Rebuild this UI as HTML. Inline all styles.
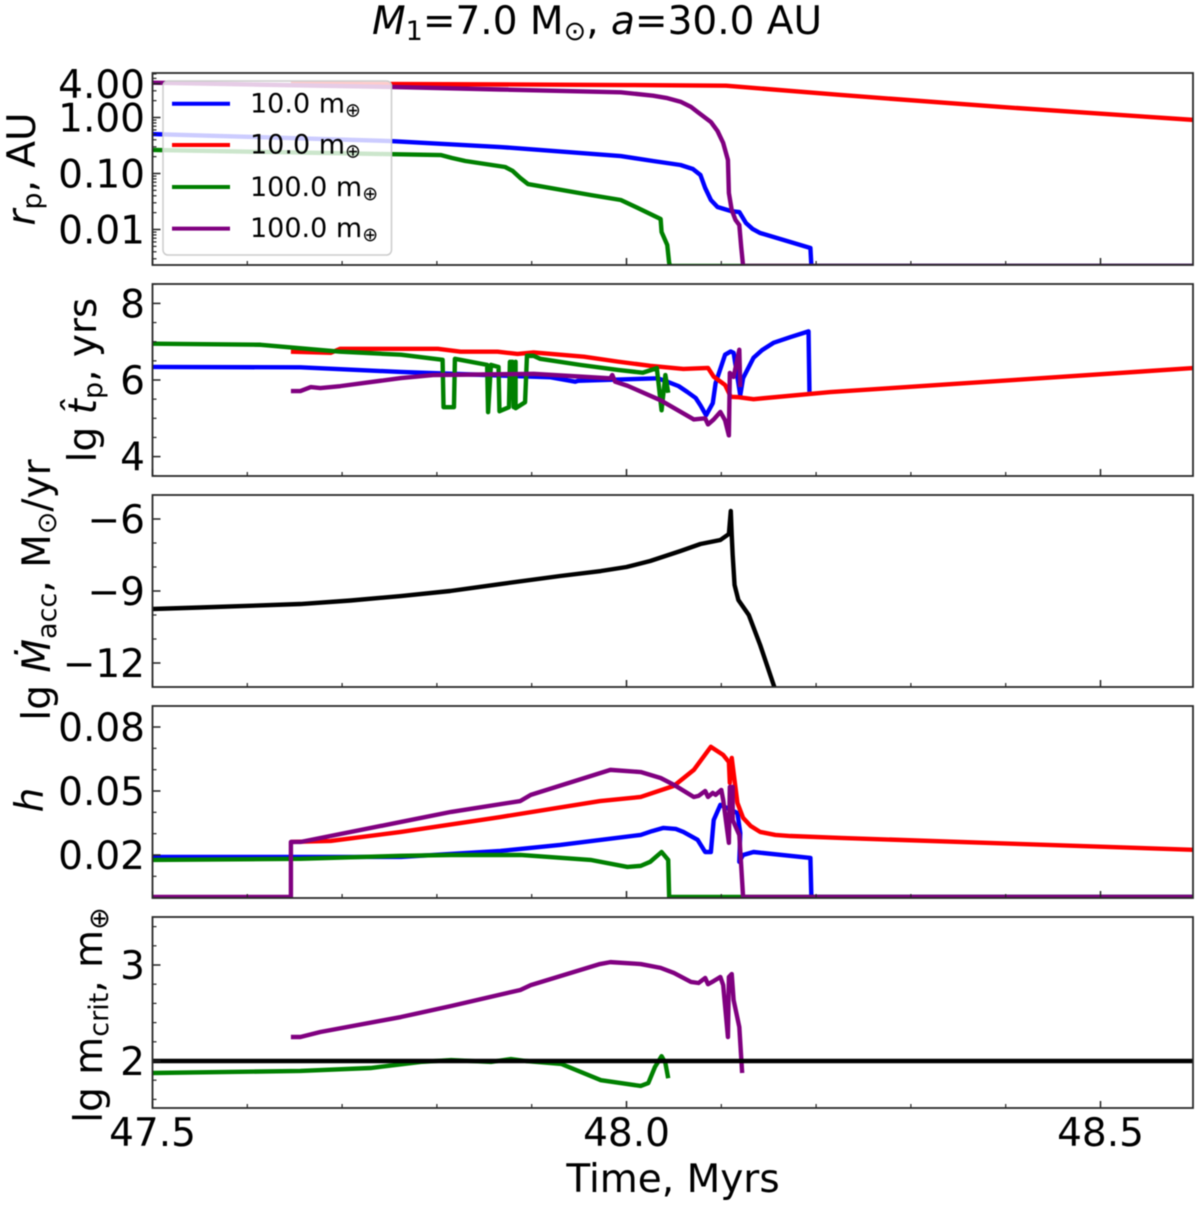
<!DOCTYPE html>
<html lang="en">
<head>
<meta charset="utf-8">
<title>Planet evolution chart</title>
<style>
html,body{margin:0;padding:0;background:#fff;}
svg{display:block;filter:blur(0.4px);}
text{font-family:"DejaVu Sans","Liberation Sans",sans-serif;fill:#000;}
</style>
</head>
<body>
<svg id="chart" xmlns="http://www.w3.org/2000/svg" width="1200" height="1205" viewBox="0 0 1200 1205">
  <rect x="0" y="0" width="1200" height="1205" fill="#fff"/>
  <defs>
    <clipPath id="clip-rp"><rect x="152.5" y="73" width="1040.5" height="192"/></clipPath>
    <clipPath id="clip-tp"><rect x="152.5" y="284" width="1040.5" height="192"/></clipPath>
    <clipPath id="clip-acc"><rect x="152.5" y="495" width="1040.5" height="192"/></clipPath>
    <clipPath id="clip-h"><rect x="152.5" y="706" width="1040.5" height="192"/></clipPath>
    <clipPath id="clip-crit"><rect x="152.5" y="917" width="1040.5" height="191"/></clipPath>
  </defs>
  <g id="plot-layer"></g>

  <text x="597" y="34" text-anchor="middle" font-size="39"><tspan font-style="italic">M</tspan><tspan font-size="27" dy="6">1</tspan><tspan dy="-6">=7.0 M</tspan><tspan font-size="27" dy="6">⊙</tspan><tspan dy="-6">, </tspan><tspan font-style="italic">a</tspan>=30.0 AU</text>

  <text transform="translate(35 169) rotate(-90)" text-anchor="middle" font-size="39"><tspan font-style="italic">r</tspan><tspan font-size="27" dy="6">p</tspan><tspan dy="-6">, AU</tspan></text>
  <text transform="translate(96 380) rotate(-90)" text-anchor="middle" font-size="39">lg <tspan font-style="italic">t̂</tspan><tspan font-size="27" dy="6">p</tspan><tspan dy="-6">, yrs</tspan></text>
  <text transform="translate(50 590) rotate(-90)" text-anchor="middle" font-size="39">lg <tspan font-style="italic">Ṁ</tspan><tspan font-size="27" dy="6">acc</tspan><tspan dy="-6">, M</tspan><tspan font-size="27" dy="6">⊙</tspan><tspan dy="-6">/yr</tspan></text>
  <text transform="translate(43 800) rotate(-90)" text-anchor="middle" font-size="39" font-style="italic">h</text>
  <text transform="translate(102 1015) rotate(-90)" text-anchor="middle" font-size="39">lg m<tspan font-size="27" dy="6">crit</tspan><tspan dy="-6">, m</tspan><tspan font-size="27" dy="6">⊕</tspan></text>
  <text x="673" y="1192" text-anchor="middle" font-size="39">Time, Myrs</text>

  <g>
    <rect x="163" y="81" width="228.5" height="174" rx="5" ry="5" fill="#fff" fill-opacity="0.8" stroke="#ccc" stroke-width="1.5"/>
    <g>
      <line x1="172" x2="230" y1="103.7" y2="103.7" stroke="#0000ff" stroke-width="4"/>
      <text x="250" y="112.5" font-size="27">10.0 m<tspan font-size="19" dy="4">⊕</tspan></text>
    </g>
    <g>
      <line x1="172" x2="230" y1="145" y2="145" stroke="#ff0000" stroke-width="4"/>
      <text x="250" y="153.5" font-size="27">10.0 m<tspan font-size="19" dy="4">⊕</tspan></text>
    </g>
    <g>
      <line x1="172" x2="230" y1="187" y2="187" stroke="#008000" stroke-width="4"/>
      <text x="250" y="196" font-size="27">100.0 m<tspan font-size="19" dy="4">⊕</tspan></text>
    </g>
    <g>
      <line x1="172" x2="230" y1="228.6" y2="228.6" stroke="#800080" stroke-width="4"/>
      <text x="250" y="237" font-size="27">100.0 m<tspan font-size="19" dy="4">⊕</tspan></text>
    </g>
  </g>
</svg>

<script>
// ---- tick values and labels ----
const timeMajorTicks = [47.5, 48.0, 48.5];
const timeTickLabels = ["47.5", "48.0", "48.5"];
const timeMinorTicks = [47.6, 47.7, 47.8, 47.9, 48.1, 48.2, 48.3, 48.4];

const rpMajorTicks = [-2, -1, 0, 0.602];
const rpTickLabels = ["0.01", "0.10", "1.00", "4.00"];
const rpMinorTicks = [-2.523, -2.398, -2.301, -2.222, -2.155, -2.097, -2.046, -1.699, -1.523, -1.398, -1.301, -1.222, -1.155, -1.097, -1.046, -0.699, -0.523, -0.398, -0.301, -0.222, -0.155, -0.097, -0.046, 0.301, 0.477, 0.699, 0.778];

const tpMajorTicks = [4, 6, 8];
const tpTickLabels = ["4", "6", "8"];
const tpMinorTicks = [3.5, 4.5, 5, 5.5, 6.5, 7, 7.5, 8.5];

const accMajorTicks = [-12, -9, -6];
const accTickLabels = ["−12", "−9", "−6"];
const accMinorTicks = [-13, -11, -10, -8, -7];

const hMajorTicks = [0.02, 0.05, 0.08];
const hTickLabels = ["0.02", "0.05", "0.08"];
const hMinorTicks = [0.01, 0.03, 0.04, 0.06, 0.07, 0.09];

const critMajorTicks = [2, 3];
const critTickLabels = ["2", "3"];
const critMinorTicks = [1.6, 1.8, 2.2, 2.4, 2.6, 2.8, 3.2, 3.4];

// ---- panel 1: lg of planet orbital radius (AU) ----
const rpBlueTime = [47.5, 47.751, 47.867, 47.994, 48.028, 48.057, 48.07, 48.078, 48.083, 48.089, 48.096, 48.110, 48.119, 48.126, 48.133, 48.141, 48.194, 48.195, 48.6];
const rpBlueLg = [-0.295, -0.42, -0.527, -0.688, -0.777, -0.848, -0.92, -1.027, -1.259, -1.473, -1.598, -1.67, -1.688, -1.884, -1.99, -2.063, -2.33, -2.65, -2.65];
const rpRedTime = [47.646, 48.0, 48.105, 48.226, 48.395, 48.6];
const rpRedLg = [0.607, 0.58, 0.568, 0.402, 0.188, -0.045];
const rpGreenTime = [47.5, 47.804, 47.816, 47.83, 47.872, 47.88, 47.888, 47.896, 47.962, 47.994, 48.012, 48.036, 48.037, 48.043, 48.045, 48.046, 48.6];
const rpGreenLg = [-0.58, -0.67, -0.723, -0.777, -0.884, -0.955, -1.08, -1.188, -1.384, -1.473, -1.616, -1.813, -2.045, -2.277, -2.598, -2.65, -2.65];
const rpPurpleTime = [47.5, 47.751, 47.867, 47.994, 48.028, 48.042, 48.057, 48.068, 48.075, 48.082, 48.089, 48.096, 48.102, 48.107, 48.108, 48.111, 48.115, 48.119, 48.121, 48.123, 48.6];
const rpPurpleLg = [0.621, 0.545, 0.5, 0.45, 0.389, 0.35, 0.282, 0.19, 0.098, 0.009, -0.08, -0.241, -0.455, -0.759, -1.348, -1.652, -1.83, -1.92, -2.313, -2.65, -2.65];

// ---- panel 2: lg of migration timescale (yrs) ----
const tpBlueTime = [47.5, 47.656, 47.762, 47.92, 47.946, 47.949, 48.033, 48.043, 48.055, 48.064, 48.073, 48.078, 48.084, 48.091, 48.094, 48.104, 48.11, 48.113, 48.12, 48.123, 48.129, 48.134, 48.143, 48.155, 48.173, 48.192, 48.193];
const tpBlueValue = [6.34, 6.33, 6.21, 6.07, 5.955, 5.98, 6.045, 5.955, 5.84, 5.69, 5.53, 5.34, 5.08, 5.395, 5.92, 6.66, 6.745, 6.71, 5.605, 6.05, 6.34, 6.58, 6.78, 6.97, 7.12, 7.27, 5.69];
const tpRedTime = [47.646, 47.688, 47.698, 47.762, 47.801, 47.825, 47.864, 47.885, 47.902, 47.955, 47.991, 48.025, 48.06, 48.086, 48.092, 48.104, 48.11, 48.117, 48.134, 48.215, 48.6];
const tpRedValue = [6.74, 6.71, 6.815, 6.815, 6.815, 6.74, 6.74, 6.68, 6.72, 6.61, 6.48, 6.37, 6.29, 6.315, 6.087, 5.87, 5.56, 5.553, 5.5, 5.684, 6.315];
const tpGreenTime = [47.5, 47.614, 47.698, 47.762, 47.806, 47.807, 47.818, 47.819, 47.853, 47.854, 47.857, 47.865, 47.866, 47.876, 47.877, 47.880, 47.881, 47.883, 47.883, 47.893, 47.895, 47.902, 47.909, 47.951, 47.991, 48.017, 48.032, 48.037, 48.041, 48.044];
const tpGreenValue = [6.947, 6.92, 6.74, 6.66, 6.526, 5.29, 5.29, 6.553, 6.395, 5.16, 6.395, 6.34, 5.184, 5.29, 6.474, 6.474, 5.29, 6.474, 5.263, 5.42, 6.63, 6.63, 6.553, 6.395, 6.263, 6.19, 6.31, 5.21, 6.13, 5.666];
const tpPurpleTime = [47.646, 47.656, 47.667, 47.677, 47.698, 47.762, 47.796, 47.902, 47.983, 47.985, 47.988, 48.001, 48.036, 48.071, 48.083, 48.086, 48.092, 48.099, 48.104, 48.108, 48.109, 48.113, 48.119, 48.12];
const tpPurpleValue = [5.71, 5.71, 5.816, 5.79, 5.84, 6.05, 6.13, 6.16, 6.045, 6.13, 5.955, 5.85, 5.47, 4.97, 5, 4.84, 4.97, 5.166, 4.947, 4.553, 6.184, 6.08, 6.79, 5.816];

// ---- panel 3: lg of accretion rate (Msun/yr) ----
const accTime = [47.5, 47.55, 47.656, 47.709, 47.762, 47.814, 47.867, 47.93, 47.973, 48.0, 48.025, 48.057, 48.078, 48.099, 48.108, 48.11, 48.111, 48.112, 48.114, 48.118, 48.129, 48.141, 48.157];
const accValue = [-9.75, -9.688, -9.542, -9.396, -9.209, -9.0, -8.709, -8.375, -8.167, -8.0, -7.75, -7.334, -7.042, -6.875, -6.625, -5.667, -6.667, -7.5, -8.75, -9.375, -10.0, -11.25, -13.125];

// ---- panel 4: disc aspect ratio h ----
const hBlueTime = [47.5, 47.762, 47.867, 47.93, 48.015, 48.027, 48.039, 48.052, 48.06, 48.075, 48.083, 48.089, 48.092, 48.099, 48.117, 48.12, 48.119, 48.123, 48.134, 48.194, 48.195, 48.6];
const hBlueValue = [0.0191, 0.0191, 0.0219, 0.0247, 0.0294, 0.0312, 0.0327, 0.0322, 0.0308, 0.0271, 0.0214, 0.0214, 0.0364, 0.0435, 0.0397, 0.0303, 0.0168, 0.02, 0.0214, 0.0186, 0.0003, 0.0003];
const hRedTime = [47.646, 47.688, 47.762, 47.867, 47.972, 48.015, 48.05, 48.071, 48.089, 48.102, 48.108, 48.109, 48.111, 48.117, 48.123, 48.131, 48.141, 48.157, 48.173, 48.226, 48.6];
const hRedValue = [0.0261, 0.0266, 0.0308, 0.0378, 0.0453, 0.0472, 0.0524, 0.0599, 0.0707, 0.0669, 0.0636, 0.0538, 0.0655, 0.0444, 0.0374, 0.0336, 0.0308, 0.0294, 0.0289, 0.028, 0.0224];
const hGreenTime = [47.5, 47.656, 47.762, 47.815, 47.888, 47.962, 48.001, 48.015, 48.025, 48.037, 48.044, 48.045, 48.6];
const hGreenValue = [0.0177, 0.0182, 0.0196, 0.02, 0.02, 0.0177, 0.0144, 0.0149, 0.0168, 0.0214, 0.0177, 0.0003, 0.0003];
const hPurpleTime = [47.5, 47.646, 47.646, 47.656, 47.762, 47.815, 47.888, 47.899, 47.983, 48.015, 48.036, 48.05, 48.071, 48.076, 48.083, 48.086, 48.091, 48.094, 48.1, 48.102, 48.108, 48.109, 48.112, 48.112, 48.119, 48.123, 48.6];
const hPurpleValue = [0.0003, 0.0003, 0.0261, 0.0261, 0.0355, 0.0402, 0.0453, 0.0482, 0.0599, 0.0589, 0.0561, 0.0529, 0.0472, 0.0477, 0.05, 0.0472, 0.0491, 0.0482, 0.0505, 0.0458, 0.0257, 0.0519, 0.0519, 0.0364, 0.0294, 0.0003, 0.0003];

// ---- panel 5: lg of critical mass ----
const critPurpleTime = [47.646, 47.656, 47.677, 47.762, 47.815, 47.888, 47.899, 47.972, 47.983, 48.015, 48.036, 48.05, 48.068, 48.076, 48.083, 48.086, 48.092, 48.099, 48.102, 48.107, 48.108, 48.111, 48.113, 48.119, 48.122];
const critPurpleValue = [2.25, 2.25, 2.302, 2.458, 2.573, 2.74, 2.79, 3.01, 3.03, 3.01, 2.97, 2.917, 2.823, 2.8125, 2.865, 2.8, 2.833, 2.875, 2.79, 2.25, 2.875, 2.906, 2.635, 2.354, 1.875];
const critGreenTime = [47.5, 47.656, 47.73, 47.783, 47.815, 47.857, 47.878, 47.894, 47.931, 47.973, 48.015, 48.023, 48.03, 48.037, 48.041, 48.044];
const critGreenValue = [1.875, 1.896, 1.927, 1.99, 2.01, 1.99, 2.02, 2.0, 1.97, 1.8, 1.74, 1.77, 1.9375, 2.05, 1.98, 1.82];
const critThresholdTime = [47.5, 48.6];
const critThresholdValue = [2, 2];

// ---- axis functions ----
const SVGNS = "http://www.w3.org/2000/svg";
const plotLayer = document.getElementById("plot-layer");
const xLeft = 152.5;
const xRight = 1193;
function xScale(t) { return xLeft + (t - 47.5) * 948; }
function yRp(v) { return 117.5 - 56 * v; }
function yTp(v) { return 380 - 38.3 * (v - 6); }
function yAcc(v) { return 591 - 24 * (v + 9); }
function yH(v) { return 791 - 2133 * (v - 0.05); }
function yCrit(v) { return 1061 - 96 * (v - 2); }

function drawSeries(group, clipId, yFn, times, values, color, width, name) {
  const line = document.createElementNS(SVGNS, "polyline");
  
  
  line.setAttribute("points", times.map(function (t, i) { return xScale(t).toFixed(2) + "," + yFn(values[i]).toFixed(2); }).join(" "));
  line.setAttribute("fill", "none");
  line.setAttribute("stroke", color);
  line.setAttribute("stroke-width", width);
  line.setAttribute("stroke-linejoin", "round");
  line.setAttribute("clip-path", "url(#" + clipId + ")");
  group.appendChild(line);
}

function drawTick(group, x1, y1, x2, y2, width) {
  const tick = document.createElementNS(SVGNS, "line");
  
  
  tick.setAttribute("x1", x1);
  tick.setAttribute("y1", y1);
  tick.setAttribute("x2", x2);
  tick.setAttribute("y2", y2);
  tick.setAttribute("stroke", "#222");
  tick.setAttribute("stroke-width", width);
  group.appendChild(tick);
}

function drawLabel(group, x, y, text, anchor) {
  const label = document.createElementNS(SVGNS, "text");
  
  
  label.setAttribute("x", x);
  label.setAttribute("y", y);
  label.setAttribute("text-anchor", anchor);
  label.setAttribute("font-size", "39");
  label.textContent = text;
  group.appendChild(label);
}

function drawPanel(name, top, bottom, yFn, majors, labels, minors, clipId, showTimeLabels, seriesList) {
  const group = document.createElementNS(SVGNS, "g");
  
  
  plotLayer.appendChild(group);

  seriesList.forEach(function (s) {
    drawSeries(group, clipId, yFn, s[0], s[1], s[2], s[3], s[4]);
  });

  timeMajorTicks.forEach(function (t) {
    drawTick(group, xScale(t), bottom, xScale(t), bottom - 7, 1.5);
  });
  timeMinorTicks.forEach(function (t) {
    drawTick(group, xScale(t), bottom, xScale(t), bottom - 4, 1.2);
  });
  majors.forEach(function (v, i) {
    drawTick(group, xLeft, yFn(v), xLeft + 8, yFn(v), 1.5);
    drawLabel(group, 145, yFn(v) + 14, labels[i], "end");
  });
  minors.forEach(function (v) {
    const py = yFn(v);
    if (py > top && py < bottom) drawTick(group, xLeft, py, xLeft + 4, py, 1.2);
  });
  if (showTimeLabels) {
    timeMajorTicks.forEach(function (t, i) {
      drawLabel(group, xScale(t), bottom + 38, timeTickLabels[i], "middle");
    });
  }

  const frame = document.createElementNS(SVGNS, "rect");
  
  
  frame.setAttribute("x", xLeft);
  frame.setAttribute("y", top);
  frame.setAttribute("width", xRight - xLeft);
  frame.setAttribute("height", bottom - top);
  frame.setAttribute("fill", "none");
  frame.setAttribute("stroke", "#2a2a2a");
  frame.setAttribute("stroke-width", "1.8");
  group.appendChild(frame);
}

const BLUE = "#0000ff", RED = "#ff0000", GREEN = "#008000", PURPLE = "#800080", BLACK = "#000000";

drawPanel("rp-panel", 73, 265, yRp, rpMajorTicks, rpTickLabels, rpMinorTicks, "clip-rp", false, [
  [rpBlueTime, rpBlueLg, BLUE, 4.4, "rp-line-blue"],
  [rpRedTime, rpRedLg, RED, 4.4, "rp-line-red"],
  [rpGreenTime, rpGreenLg, GREEN, 4.4, "rp-line-green"],
  [rpPurpleTime, rpPurpleLg, PURPLE, 4.4, "rp-line-purple"]
]);
drawPanel("tp-panel", 284, 476, yTp, tpMajorTicks, tpTickLabels, tpMinorTicks, "clip-tp", false, [
  [tpBlueTime, tpBlueValue, BLUE, 4.4, "tp-line-blue"],
  [tpRedTime, tpRedValue, RED, 4.4, "tp-line-red"],
  [tpGreenTime, tpGreenValue, GREEN, 4.4, "tp-line-green"],
  [tpPurpleTime, tpPurpleValue, PURPLE, 4.4, "tp-line-purple"]
]);
drawPanel("accretion-panel", 495, 687, yAcc, accMajorTicks, accTickLabels, accMinorTicks, "clip-acc", false, [
  [accTime, accValue, BLACK, 4.4, "accretion-line"]
]);
drawPanel("h-panel", 706, 898, yH, hMajorTicks, hTickLabels, hMinorTicks, "clip-h", false, [
  [hBlueTime, hBlueValue, BLUE, 4.4, "h-line-blue"],
  [hRedTime, hRedValue, RED, 4.4, "h-line-red"],
  [hGreenTime, hGreenValue, GREEN, 4.4, "h-line-green"],
  [hPurpleTime, hPurpleValue, PURPLE, 4.4, "h-line-purple"]
]);
drawPanel("mcrit-panel", 917, 1108, yCrit, critMajorTicks, critTickLabels, critMinorTicks, "clip-crit", true, [
  [critGreenTime, critGreenValue, GREEN, 4.4, "mcrit-line-green"],
  [critPurpleTime, critPurpleValue, PURPLE, 4.4, "mcrit-line-purple"],
  [critThresholdTime, critThresholdValue, BLACK, 4.4, "mcrit-threshold-line"]
]);
</script>
</body>
</html>
